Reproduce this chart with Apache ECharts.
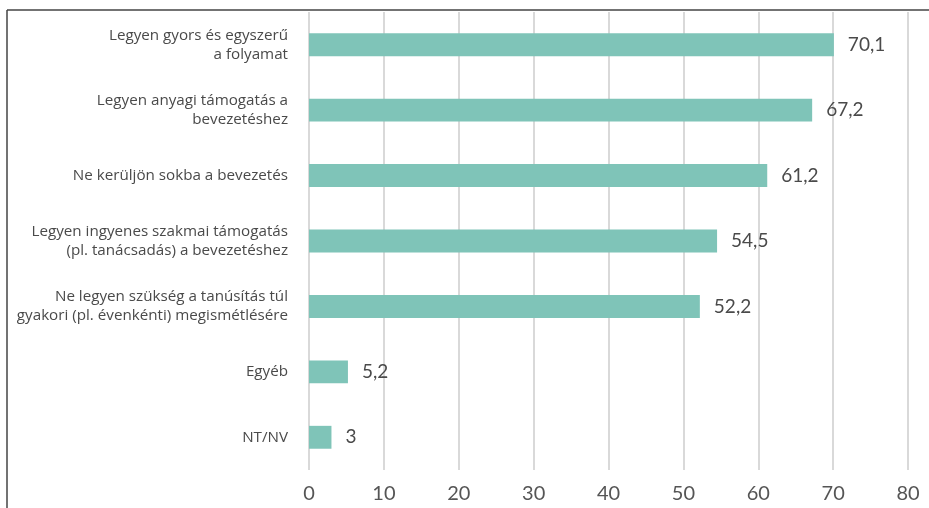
<!DOCTYPE html>
<html>
<head>
<meta charset="utf-8">
<script src="https://cdn.jsdelivr.net/npm/echarts@6/dist/echarts.min.js"></script>
<style>
  html, body { margin: 0; padding: 0; background: #ffffff; }
  #chart { width: 929px; height: 508px; }
</style>
</head>
<body>
<div id="chart"></div>
<script>
// Answer categories, top to bottom
const categories = [
  'Legyen gyors és egyszerű\na folyamat',
  'Legyen anyagi támogatás a\nbevezetéshez',
  'Ne kerüljön sokba a bevezetés',
  'Legyen ingyenes szakmai támogatás\n(pl. tanácsadás) a bevezetéshez',
  'Ne legyen szükség a tanúsítás túl\ngyakori (pl. évenkénti) megismétlésére',
  'Egyéb',
  'NT/NV'
];
// Share of respondents, %
const values = [70.1, 67.2, 61.2, 54.5, 52.2, 5.2, 3];
// Value axis ticks
const axisMin = 0;
const axisMax = 80;
const axisStep = 10;

const textColor = '#4a4a4a';
const labelFont = '"Open Sans", Lato, sans-serif';
const numberFont = 'Lato, "Open Sans", sans-serif';

const chart = echarts.init(document.getElementById('chart'), null, { renderer: 'canvas' });
chart.setOption({
  animation: false,
  backgroundColor: '#ffffff',
  grid: {
    left: 309, right: 21, top: 12, bottom: 38,
    containLabel: false,
    outerBoundsMode: 'none'
  },
  xAxis: {
    type: 'value',
    min: axisMin,
    max: axisMax,
    interval: axisStep,
    axisLine: { show: false },
    axisTick: { show: false },
    splitLine: { show: true, lineStyle: { color: '#d9d9d9', width: 2 } },
    axisLabel: {
      color: '#555555',
      fontSize: 20,
      fontFamily: numberFont,
      margin: 14
    }
  },
  yAxis: {
    type: 'category',
    data: categories,
    inverse: true,
    axisLine: { show: false },
    axisTick: { show: false },
    splitLine: { show: false },
    axisLabel: {
      color: textColor,
      fontSize: 15.2,
      fontFamily: labelFont,
      lineHeight: 19,
      align: 'right',
      margin: 21
    }
  },
  series: [{
    type: 'bar',
    data: values,
    barWidth: '35%',
    itemStyle: { color: '#7fc4b8' },
    label: {
      show: true,
      position: 'right',
      distance: 14,
      color: textColor,
      fontSize: 19,
      fontFamily: numberFont,
      formatter: p => String(p.value).replace('.', ',')
    }
  }],
  graphic: [
    { type: 'line', shape: { x1: 7, y1: 10, x2: 929, y2: 10 }, style: { stroke: '#444444', lineWidth: 1.5 } },
    { type: 'line', shape: { x1: 7, y1: 10, x2: 7, y2: 508 }, style: { stroke: '#444444', lineWidth: 1.5 } }
  ]
});
</script>
</body>
</html>
